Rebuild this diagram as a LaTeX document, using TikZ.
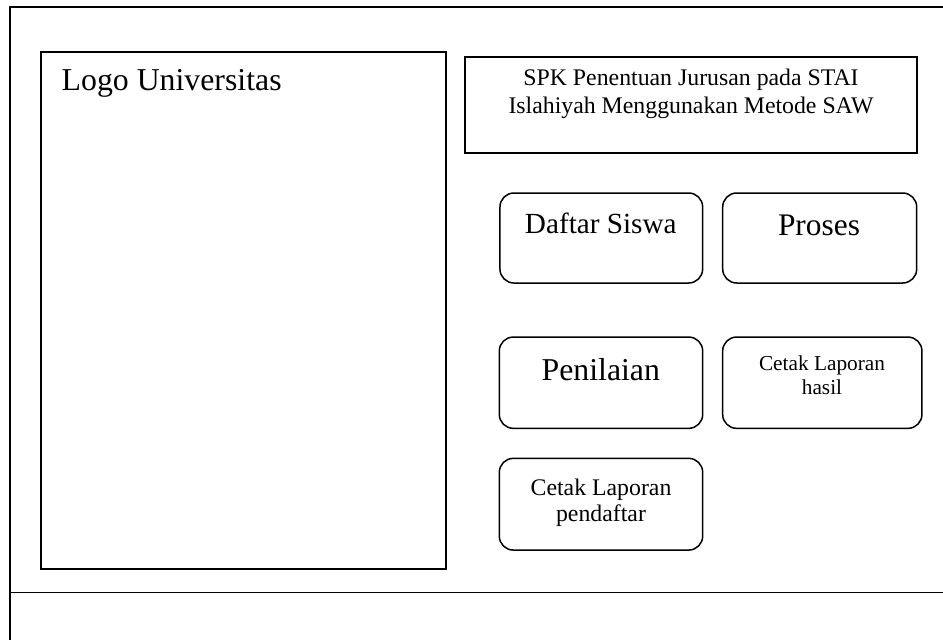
\documentclass[tikz,border=0pt]{standalone}
\usepackage{fontspec}
\setmainfont{Liberation Serif}
\begin{document}
\begin{tikzpicture}[x=1pt,y=-1pt,
  frame/.style={line width=1.6pt},
  box/.style={draw, line width=1.5pt, inner sep=0pt, outer sep=0pt},
  rbox/.style={box, rounded corners=14pt},
  lbl/.style={inner sep=0pt, outer sep=0pt, align=center}]
\useasboundingbox (0,0) rectangle (943,640);
\fill[white] (0,0) rectangle (943,640);
% outer frame
\coordinate (fTR) at (943,7);
\coordinate (fTL) at (10,7);
\coordinate (fBL) at (10,640);
\coordinate (hL) at (10,592.5);
\coordinate (hR) at (943,592.5);
\draw[frame] (fTR) -- (fTL) -- (fBL);
\draw[frame] (hL) -- (hR);
% boxes
\node[box, minimum width=405pt, minimum height=517pt] (logo) at (243.5,310.5) {};
\node[box, minimum width=452pt, minimum height=96pt] (title) at (691,105) {};
\node[rbox, minimum width=202.7pt, minimum height=90pt] (daftar) at (601.3,238) {};
\node[rbox, minimum width=194pt, minimum height=90pt] (proses) at (819.7,238) {};
\node[rbox, minimum width=203.4pt, minimum height=91.3pt] (nilai) at (601,382.7) {};
\node[rbox, minimum width=199.3pt, minimum height=91.3pt] (hasil) at (822.3,382.7) {};
\node[rbox, minimum width=203.4pt, minimum height=91.7pt] (pendaftar) at (601,504.2) {};
% texts
\node[lbl, anchor=base west, font=\fontsize{31.8}{36}\selectfont] (tlogo) at (61.7,90.7) {Logo Universitas};
\node[lbl, anchor=base, font=\fontsize{23.8}{28}\selectfont] (ttitle) at (691,113) {SPK Penentuan Jurusan pada STAI\\Islahiyah Menggunakan Metode SAW};
\node[lbl, anchor=base, font=\fontsize{29.2}{34}\selectfont] (tdaftar) at (600.8,233) {Daftar Siswa};
\node[lbl, anchor=base, font=\fontsize{31.4}{36}\selectfont] (tproses) at (819,235) {Proses};
\node[lbl, anchor=base, font=\fontsize{31.8}{36}\selectfont] (tnilai) at (600.8,380.7) {Penilaian};
\node[lbl, anchor=base, font=\fontsize{21.3}{24}\selectfont] (thasil) at (822,394) {Cetak Laporan\\hasil};
\node[lbl, anchor=base, font=\fontsize{23.8}{26.7}\selectfont] (tpendaftar) at (601,521.7) {Cetak Laporan\\pendaftar};
\end{tikzpicture}
\end{document}
